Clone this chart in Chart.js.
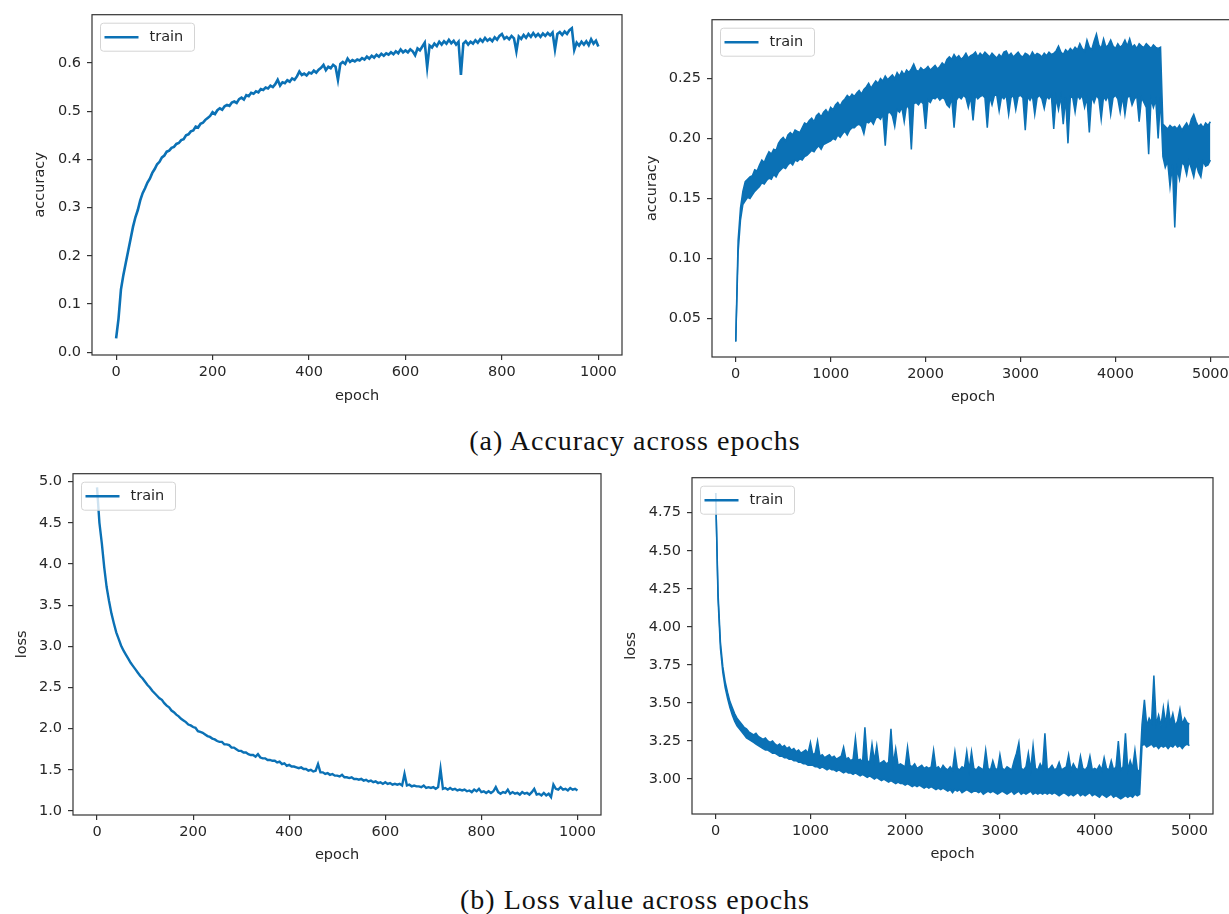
<!DOCTYPE html>
<html>
<head>
<meta charset="utf-8">
<script src="https://cdn.jsdelivr.net/npm/chart.js@4.4.1/dist/chart.umd.min.js"></script>
<style>
  html, body { margin: 0; padding: 0; background: #fff; }
  body { width: 1229px; height: 914px; overflow: hidden; position: relative; }
  .plot { position: absolute; }
  .cap {
    position: absolute; left: 335px; width: 600px; text-align: center;
    font-family: "Liberation Serif", serif; font-size: 28px; line-height: 28px;
    letter-spacing: 1px; color: #111; white-space: nowrap;
  }
</style>
</head>
<body>
<canvas id="accShortChart" class="plot"></canvas>
<canvas id="accLongChart" class="plot"></canvas>
<canvas id="lossShortChart" class="plot"></canvas>
<canvas id="lossLongChart" class="plot"></canvas>
<div class="cap" style="top:427px">(a) Accuracy across epochs</div>
<div class="cap" style="top:886px">(b) Loss value across epochs</div>

<script>
// x positions: 1000-epoch runs sampled every 5 epochs, 5000-epoch runs every 25
const shortEpochs = [];
for (let e = 0; e <= 1000; e += 5) shortEpochs.push(e);
const longEpochs = [];
for (let e = 0; e <= 5000; e += 25) longEpochs.push(e);

const shortTicks = [0, 200, 400, 600, 800, 1000];
const longTicks = [0, 1000, 2000, 3000, 4000, 5000];

// (a) left: accuracy, 1000 epochs
const accShort = [
  0.029, 0.07, 0.13, 0.16, 0.185, 0.21, 0.235, 0.26, 0.28, 0.295,
  0.315, 0.33, 0.34, 0.352, 0.36, 0.372, 0.38, 0.39, 0.395, 0.404,
  0.408, 0.416, 0.418, 0.424, 0.426, 0.432, 0.434, 0.44, 0.442, 0.45,
  0.452, 0.458, 0.46, 0.468, 0.466, 0.474, 0.476, 0.482, 0.486, 0.49,
  0.498, 0.494, 0.502, 0.506, 0.503, 0.51, 0.513, 0.511, 0.518, 0.52,
  0.517, 0.525, 0.528, 0.524, 0.533, 0.531, 0.538, 0.536, 0.541, 0.539,
  0.546, 0.544, 0.549, 0.547, 0.553, 0.55, 0.556, 0.565, 0.553, 0.56,
  0.558, 0.564, 0.561, 0.568, 0.565, 0.572, 0.582, 0.575, 0.578, 0.574,
  0.58, 0.578, 0.584, 0.58, 0.586, 0.59, 0.596, 0.585, 0.592, 0.589,
  0.596, 0.592, 0.565, 0.598, 0.602, 0.598, 0.609, 0.602, 0.606, 0.603,
  0.607, 0.605, 0.61, 0.607, 0.613, 0.609, 0.615, 0.611, 0.617, 0.613,
  0.619, 0.615, 0.62, 0.617, 0.622, 0.618, 0.624, 0.62, 0.628, 0.622,
  0.626, 0.622, 0.628, 0.624, 0.616, 0.63, 0.626, 0.634, 0.642, 0.591,
  0.636, 0.632, 0.64, 0.635, 0.644, 0.638, 0.645, 0.64, 0.648, 0.641,
  0.646, 0.638, 0.644, 0.575, 0.64, 0.645, 0.638, 0.644, 0.64, 0.647,
  0.642, 0.649, 0.644, 0.652, 0.646, 0.65, 0.645, 0.653, 0.648, 0.656,
  0.66, 0.65, 0.654, 0.649, 0.656, 0.651, 0.624, 0.655, 0.65, 0.658,
  0.652, 0.66, 0.654, 0.662, 0.655, 0.66, 0.654, 0.661, 0.656, 0.662,
  0.657, 0.663, 0.628, 0.66, 0.664, 0.658, 0.665, 0.66, 0.668, 0.672,
  0.627, 0.642, 0.636, 0.644, 0.638, 0.645, 0.637, 0.649, 0.64, 0.646,
  0.634
];

// (a) right: accuracy, 5000 epochs - the noise is so dense it reads as a band,
// so it is kept as the upper and lower edge of that band
const accLongUpper = [
  0.031, 0.115, 0.142, 0.156, 0.164, 0.166, 0.168, 0.169, 0.174, 0.173,
  0.178, 0.182, 0.180, 0.185, 0.189, 0.187, 0.191, 0.190, 0.196, 0.199,
  0.201, 0.198, 0.203, 0.205, 0.203, 0.207, 0.206, 0.205, 0.209, 0.213,
  0.212, 0.215, 0.217, 0.214, 0.219, 0.221, 0.218, 0.222, 0.224, 0.221,
  0.226, 0.224, 0.228, 0.230, 0.227, 0.231, 0.233, 0.236, 0.234, 0.237,
  0.235, 0.238, 0.240, 0.237, 0.241, 0.243, 0.246, 0.242, 0.245, 0.248,
  0.246, 0.250, 0.248, 0.252, 0.249, 0.251, 0.253, 0.250, 0.255, 0.252,
  0.256, 0.253, 0.257, 0.255, 0.258, 0.262, 0.257, 0.256, 0.259, 0.257,
  0.258, 0.260, 0.257, 0.259, 0.261, 0.258, 0.260, 0.263, 0.261, 0.266,
  0.268, 0.266, 0.270, 0.267, 0.269, 0.266, 0.268, 0.271, 0.267, 0.269,
  0.270, 0.272, 0.268, 0.271, 0.269, 0.272, 0.270, 0.268, 0.271, 0.269,
  0.267, 0.270, 0.268, 0.272, 0.273, 0.269, 0.271, 0.268, 0.270, 0.272,
  0.269, 0.268, 0.271, 0.270, 0.268, 0.272, 0.269, 0.271, 0.270, 0.268,
  0.271, 0.269, 0.272, 0.270, 0.271, 0.273, 0.277, 0.272, 0.270, 0.274,
  0.272, 0.275, 0.273, 0.276, 0.274, 0.279, 0.275, 0.273, 0.282, 0.276,
  0.274, 0.281, 0.287, 0.278, 0.275, 0.283, 0.276, 0.278, 0.282, 0.277,
  0.275, 0.279, 0.276, 0.278, 0.282, 0.277, 0.283, 0.276, 0.278, 0.275,
  0.279, 0.277, 0.276, 0.279, 0.277, 0.275, 0.278, 0.276, 0.275, 0.276,
  0.212, 0.210, 0.208, 0.211, 0.209, 0.210, 0.208, 0.211, 0.207, 0.210,
  0.213, 0.209, 0.216, 0.220, 0.214, 0.210, 0.212, 0.209, 0.213, 0.211,
  0.214
];
const accLongLower = [
  0.031, 0.105, 0.132, 0.145, 0.148, 0.151, 0.150, 0.153, 0.156, 0.158,
  0.160, 0.163, 0.162, 0.165, 0.167, 0.166, 0.170, 0.168, 0.172, 0.174,
  0.176, 0.175, 0.178, 0.180, 0.178, 0.182, 0.181, 0.183, 0.182, 0.185,
  0.186, 0.188, 0.190, 0.189, 0.192, 0.194, 0.191, 0.195, 0.196, 0.197,
  0.198, 0.200, 0.199, 0.203, 0.201, 0.204, 0.206, 0.203, 0.207, 0.209,
  0.209, 0.211, 0.212, 0.210, 0.204, 0.214, 0.213, 0.215, 0.212, 0.217,
  0.218, 0.216, 0.220, 0.194, 0.221, 0.222, 0.219, 0.210, 0.224, 0.222,
  0.226, 0.214, 0.228, 0.225, 0.191, 0.229, 0.230, 0.228, 0.231, 0.229,
  0.208, 0.232, 0.230, 0.234, 0.233, 0.235, 0.232, 0.234, 0.233, 0.228,
  0.226, 0.234, 0.209, 0.232, 0.235, 0.233, 0.236, 0.234, 0.226, 0.235,
  0.215, 0.236, 0.233, 0.235, 0.236, 0.234, 0.209, 0.235, 0.228, 0.236,
  0.236, 0.223, 0.235, 0.233, 0.236, 0.220, 0.234, 0.236, 0.224, 0.235,
  0.236, 0.234, 0.207, 0.235, 0.232, 0.236, 0.220, 0.234, 0.236, 0.233,
  0.225, 0.235, 0.233, 0.236, 0.208, 0.234, 0.224, 0.235, 0.212, 0.234,
  0.196, 0.235, 0.234, 0.222, 0.236, 0.233, 0.236, 0.226, 0.234, 0.205,
  0.235, 0.230, 0.236, 0.233, 0.216, 0.235, 0.232, 0.236, 0.220, 0.234,
  0.236, 0.233, 0.222, 0.235, 0.220, 0.234, 0.236, 0.228, 0.233, 0.235,
  0.214, 0.234, 0.230, 0.226, 0.187, 0.233, 0.226, 0.232, 0.200, 0.234,
  0.185, 0.176, 0.181, 0.160, 0.178, 0.126, 0.175, 0.166, 0.180, 0.178,
  0.170, 0.181, 0.175, 0.168, 0.179, 0.172, 0.168, 0.181, 0.177, 0.178,
  0.182
];

// (b) left: loss, 1000 epochs
const lossShort = [
  4.93, 4.50, 4.25, 3.96, 3.72, 3.55, 3.40, 3.28, 3.17, 3.09,
  3.01, 2.95, 2.90, 2.85, 2.80, 2.76, 2.72, 2.68, 2.64, 2.61,
  2.57, 2.53, 2.50, 2.46, 2.43, 2.40, 2.37, 2.35, 2.31, 2.28,
  2.26, 2.22, 2.20, 2.17, 2.15, 2.12, 2.10, 2.08, 2.05, 2.04,
  2.02, 2.01, 1.97, 1.96, 1.95, 1.93, 1.91, 1.90, 1.88, 1.87,
  1.85, 1.84, 1.84, 1.81, 1.81, 1.80, 1.77, 1.77, 1.75, 1.73,
  1.73, 1.71, 1.71, 1.69, 1.68, 1.68, 1.66, 1.69, 1.65, 1.64,
  1.64, 1.62, 1.62, 1.61, 1.61, 1.59, 1.60, 1.57, 1.58, 1.55,
  1.56, 1.54, 1.54, 1.53, 1.52, 1.53, 1.51, 1.51, 1.49, 1.50,
  1.48, 1.49, 1.57, 1.47, 1.47, 1.45, 1.46, 1.44, 1.45, 1.43,
  1.43, 1.42, 1.44, 1.41, 1.41, 1.40, 1.41, 1.39, 1.39, 1.38,
  1.39, 1.37, 1.38, 1.36, 1.37, 1.35, 1.36, 1.34, 1.35, 1.33,
  1.35, 1.33, 1.34, 1.32, 1.33, 1.32, 1.33, 1.31, 1.45, 1.31,
  1.32, 1.30, 1.31, 1.30, 1.30, 1.29, 1.31, 1.28, 1.29, 1.28,
  1.29, 1.27, 1.29, 1.51, 1.27, 1.28, 1.26, 1.28, 1.26, 1.27,
  1.25, 1.26, 1.25, 1.26, 1.24, 1.25, 1.23, 1.26, 1.24, 1.27,
  1.23, 1.24, 1.22, 1.24, 1.22, 1.24, 1.29, 1.23, 1.21, 1.23,
  1.22, 1.26, 1.21, 1.23, 1.21, 1.22, 1.20, 1.23, 1.21, 1.22,
  1.20, 1.23, 1.27, 1.20, 1.21, 1.19, 1.22, 1.19, 1.21, 1.17,
  1.32, 1.27, 1.26, 1.29, 1.26, 1.27, 1.25, 1.28, 1.26, 1.27,
  1.25
];

// (b) right: loss, 5000 epochs, band edges again
const lossLongUpper = [
  4.88, 4.22, 3.90, 3.74, 3.64, 3.57, 3.51, 3.47, 3.43, 3.40,
  3.38, 3.36, 3.34, 3.33, 3.31, 3.30, 3.29, 3.30, 3.28, 3.27,
  3.26, 3.27, 3.25, 3.24, 3.25, 3.23, 3.22, 3.23, 3.21, 3.22,
  3.20, 3.21, 3.19, 3.20, 3.18, 3.19, 3.17, 3.18, 3.19, 3.17,
  3.24, 3.16, 3.17, 3.25, 3.15, 3.16, 3.14, 3.15, 3.16, 3.14,
  3.15, 3.13, 3.14, 3.15, 3.21, 3.13, 3.14, 3.12, 3.13, 3.27,
  3.12, 3.13, 3.11, 3.34, 3.12, 3.11, 3.23, 3.12, 3.22, 3.10,
  3.11, 3.12, 3.10, 3.11, 3.33, 3.10, 3.20, 3.09, 3.10, 3.09,
  3.08, 3.21, 3.09, 3.08, 3.10, 3.07, 3.08, 3.09, 3.07, 3.08,
  3.07, 3.08, 3.19, 3.07, 3.08, 3.06, 3.09, 3.07, 3.06, 3.08,
  3.06, 3.18, 3.07, 3.06, 3.08, 3.07, 3.18, 3.06, 3.18, 3.07,
  3.06, 3.08, 3.07, 3.06, 3.19, 3.07, 3.06, 3.12, 3.07, 3.06,
  3.16, 3.07, 3.06, 3.08, 3.07, 3.06, 3.12, 3.17, 3.24, 3.07,
  3.06, 3.08, 3.17, 3.06, 3.22, 3.07, 3.06, 3.10, 3.07, 3.30,
  3.06, 3.07, 3.09, 3.06, 3.07, 3.11, 3.06, 3.07, 3.08, 3.16,
  3.06, 3.10, 3.07, 3.06, 3.15, 3.07, 3.06, 3.08, 3.15, 3.06,
  3.07, 3.06, 3.09, 3.06, 3.14, 3.07, 3.06, 3.12, 3.06, 3.08,
  3.25, 3.06, 3.08, 3.30, 3.06, 3.12, 3.07, 3.19, 3.06, 3.05,
  3.36, 3.52, 3.35, 3.40, 3.37, 3.68, 3.36, 3.42, 3.35, 3.47,
  3.36, 3.49, 3.37, 3.43, 3.35, 3.38, 3.46, 3.36, 3.40, 3.37,
  3.36
];
const lossLongLower = [
  4.88, 4.18, 3.86, 3.70, 3.60, 3.53, 3.47, 3.42, 3.38, 3.35,
  3.33, 3.31, 3.29, 3.27, 3.26, 3.25, 3.24, 3.23, 3.22, 3.21,
  3.20, 3.19, 3.19, 3.18, 3.17, 3.17, 3.16, 3.15, 3.15, 3.14,
  3.14, 3.13, 3.13, 3.12, 3.12, 3.11, 3.11, 3.10, 3.10, 3.09,
  3.09, 3.09, 3.08, 3.08, 3.07, 3.08, 3.07, 3.06, 3.07, 3.06,
  3.06, 3.05, 3.06, 3.05, 3.04, 3.05, 3.04, 3.04, 3.03, 3.04,
  3.03, 3.02, 3.03, 3.02, 3.01, 3.02, 3.01, 3.00, 3.01, 3.00,
  2.99, 3.00, 2.99, 2.98, 2.99, 2.98, 2.97, 2.98, 2.97, 2.97,
  2.96, 2.97, 2.96, 2.95, 2.96, 2.95, 2.96, 2.95, 2.94, 2.95,
  2.94, 2.95, 2.94, 2.93, 2.94, 2.93, 2.94, 2.93, 2.92, 2.93,
  2.91, 2.93, 2.92, 2.93, 2.91, 2.92, 2.93, 2.92, 2.91, 2.92,
  2.92, 2.91, 2.92, 2.90, 2.91, 2.92, 2.91, 2.92, 2.91, 2.90,
  2.91, 2.92, 2.91, 2.90, 2.91, 2.92, 2.90, 2.91, 2.92, 2.90,
  2.91, 2.90, 2.91, 2.92, 2.90, 2.91, 2.90, 2.91, 2.90, 2.91,
  2.90, 2.91, 2.90, 2.91, 2.90, 2.89, 2.90, 2.91, 2.90, 2.89,
  2.90, 2.89, 2.90, 2.91, 2.89, 2.90, 2.89, 2.90, 2.91, 2.89,
  2.90, 2.89, 2.88, 2.90, 2.89, 2.88, 2.89, 2.90, 2.88, 2.89,
  2.88, 2.87, 2.88, 2.89, 2.88, 2.89, 2.88, 2.90, 2.89, 2.90,
  3.22, 3.23, 3.21, 3.22, 3.23, 3.21, 3.22, 3.20, 3.22, 3.21,
  3.22, 3.20, 3.22, 3.21, 3.23, 3.21, 3.22, 3.20, 3.22, 3.23,
  3.22
];

const lineColor = '#0b71b5';
const inkColor = '#262626';
const axisColor = '#333333';
const fontFamily = '"DejaVu Sans", sans-serif';

function pts(xs, ys) {
  return xs.map((x, i) => ({ x: x, y: ys[i] }));
}

// matplotlib-style closed box round the axes
const framePlugin = {
  id: 'frame',
  afterDatasetsDraw(chart) {
    const a = chart.chartArea, ctx = chart.ctx;
    ctx.save();
    ctx.strokeStyle = axisColor;
    ctx.lineWidth = 1.2;
    ctx.strokeRect(a.left, a.top, a.right - a.left, a.bottom - a.top);
    ctx.restore();
  }
};

// legend box in the upper left corner, inside the axes
const cornerLegend = {
  id: 'cornerLegend',
  afterDraw(chart) {
    const a = chart.chartArea, ctx = chart.ctx;
    const ds = chart.data.datasets[0];
    const x = a.left + 8.5, y = a.top + 8.5, w = 94, h = 28;
    ctx.save();
    ctx.beginPath();
    ctx.roundRect(x, y, w, h, 3);
    ctx.fillStyle = 'rgba(255,255,255,0.8)';
    ctx.fill();
    ctx.strokeStyle = '#d4d4d4';
    ctx.lineWidth = 1;
    ctx.stroke();
    ctx.beginPath();
    ctx.moveTo(x + 4, y + h / 2);
    ctx.lineTo(x + 38, y + h / 2);
    ctx.strokeStyle = ds.borderColor;
    ctx.lineWidth = 2.5;
    ctx.stroke();
    ctx.fillStyle = inkColor;
    ctx.font = '14.5px ' + fontFamily;
    ctx.textBaseline = 'middle';
    ctx.fillText(ds.label, x + 49, y + h / 2);
    ctx.restore();
  }
};

function makeChart(id, s) {
  const canvas = document.getElementById(id);
  canvas.width = s.w;
  canvas.height = s.h;
  canvas.style.left = s.left + 'px';
  canvas.style.top = s.top + 'px';
  canvas.style.width = s.w + 'px';
  canvas.style.height = s.h + 'px';

  const font = { family: fontFamily, size: 14.5 };
  const tickGrid = { display: true, drawOnChartArea: false, drawTicks: true, tickLength: 5, color: axisColor, lineWidth: 1.2 };

  return new Chart(canvas, {
    type: 'line',
    data: { datasets: s.datasets },
    options: {
      responsive: false,
      animation: false,
      events: [],
      parsing: false,
      layout: { padding: { top: 12, right: 8, left: 0, bottom: 0 } },
      elements: { point: { radius: 0 }, line: { tension: 0 } },
      plugins: { legend: { display: false }, tooltip: { enabled: false } },
      scales: {
        x: {
          type: 'linear', min: s.xMin, max: s.xMax,
          afterBuildTicks: scale => { scale.ticks = s.xTicks.map(v => ({ value: v })); },
          ticks: { font: font, color: inkColor, padding: 4, maxRotation: 0, callback: v => String(v) },
          grid: tickGrid,
          border: { display: false },
          title: { display: true, text: 'epoch', font: font, color: inkColor, padding: { top: 0, bottom: s.xTitlePad } },
          afterFit: scale => { scale.height = 60; }
        },
        y: {
          type: 'linear', min: s.yMin, max: s.yMax,
          afterBuildTicks: scale => { scale.ticks = s.yTicks.map(v => ({ value: v })); },
          ticks: { font: font, color: inkColor, padding: 6, callback: v => v.toFixed(s.decimals) },
          grid: tickGrid,
          border: { display: false },
          title: { display: true, text: s.yTitle, font: font, color: inkColor, padding: { top: s.yTitlePad, bottom: 0 } },
          afterFit: scale => { scale.width = s.yWidth; }
        }
      }
    },
    plugins: [framePlugin, cornerLegend]
  });
}

function bandSets(upper, lower) {
  return [
    { label: 'train', data: pts(longEpochs, upper), borderColor: lineColor, borderWidth: 1.5, fill: false },
    { label: 'train (lower edge)', data: pts(longEpochs, lower), borderColor: lineColor, borderWidth: 1.5,
      backgroundColor: lineColor, fill: '-1' }
  ];
}

makeChart('accShortChart', {
  left: 0, top: 0, w: 630, h: 415, yWidth: 92,
  xMin: -50, xMax: 1049, xTicks: shortTicks,
  yMin: -0.0056, yMax: 0.700, yTicks: [0, 0.1, 0.2, 0.3, 0.4, 0.5, 0.6], decimals: 1,
  yTitle: 'accuracy', yTitlePad: 31.3, xTitlePad: 10.3,
  datasets: [{ label: 'train', data: pts(shortEpochs, accShort), borderColor: lineColor, borderWidth: 2.6, fill: false }]
});

makeChart('accLongChart', {
  left: 632, top: 5, w: 610, h: 412, yWidth: 80,
  xMin: -250, xMax: 5249, xTicks: longTicks,
  yMin: 0.018, yMax: 0.299, yTicks: [0.05, 0.10, 0.15, 0.20, 0.25], decimals: 2,
  yTitle: 'accuracy', yTitlePad: 11.3, xTitlePad: 11.3,
  datasets: bandSets(accLongUpper, accLongLower)
});

makeChart('lossShortChart', {
  left: 0, top: 459, w: 609, h: 416, yWidth: 73,
  xMin: -50, xMax: 1049, xTicks: shortTicks,
  yMin: 0.952, yMax: 5.096, yTicks: [1.0, 1.5, 2.0, 2.5, 3.0, 3.5, 4.0, 4.5, 5.0], decimals: 1,
  yTitle: 'loss', yTitlePad: 13.3, xTitlePad: 10.6,
  datasets: [{ label: 'train', data: pts(shortEpochs, lossShort), borderColor: lineColor, borderWidth: 2.4, fill: false }]
});

makeChart('lossLongChart', {
  left: 612, top: 463, w: 609, h: 411, yWidth: 80,
  xMin: -250, xMax: 5249, xTicks: longTicks,
  yMin: 2.77, yMax: 4.98, yTicks: [3.0, 3.25, 3.5, 3.75, 4.0, 4.25, 4.5, 4.75], decimals: 2,
  yTitle: 'loss', yTitlePad: 10.3, xTitlePad: 11.0,
  datasets: bandSets(lossLongUpper, lossLongLower)
});
</script>
</body>
</html>
